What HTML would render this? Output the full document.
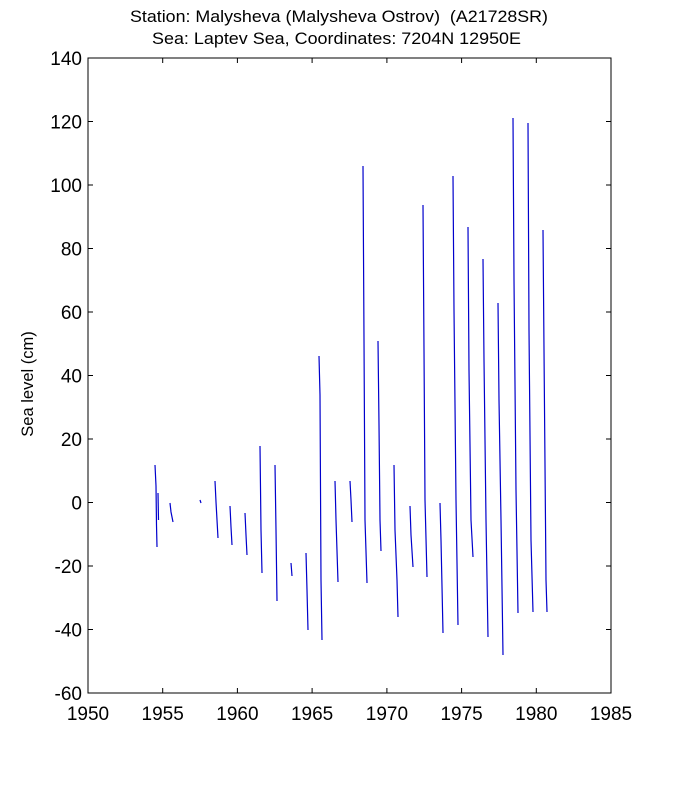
<!DOCTYPE html>
<html><head><meta charset="utf-8"><style>
body{margin:0;background:#fff}
svg text{font-family:"Liberation Sans",Arial,sans-serif;fill:#000}
</style></head><body>
<svg width="675" height="780" viewBox="0 0 675 780" xmlns="http://www.w3.org/2000/svg">
<rect width="675" height="780" fill="#fff"/>
<text x="130" y="22" font-size="17" textLength="418" lengthAdjust="spacingAndGlyphs" xml:space="preserve">Station: Malysheva (Malysheva Ostrov)  (A21728SR)</text>
<text x="152" y="44" font-size="17" textLength="369" lengthAdjust="spacingAndGlyphs">Sea: Laptev Sea, Coordinates: 7204N 12950E</text>
<rect x="88" y="58" width="523" height="635" fill="none" stroke="#000" stroke-width="1"/>
<g stroke="#000" stroke-width="1">
<line x1="162.7" y1="693" x2="162.7" y2="688"/><line x1="237.4" y1="693" x2="237.4" y2="688"/><line x1="312.1" y1="693" x2="312.1" y2="688"/><line x1="386.9" y1="693" x2="386.9" y2="688"/><line x1="461.6" y1="693" x2="461.6" y2="688"/><line x1="536.3" y1="693" x2="536.3" y2="688"/>
<line x1="162.7" y1="58" x2="162.7" y2="63"/><line x1="237.4" y1="58" x2="237.4" y2="63"/><line x1="312.1" y1="58" x2="312.1" y2="63"/><line x1="386.9" y1="58" x2="386.9" y2="63"/><line x1="461.6" y1="58" x2="461.6" y2="63"/><line x1="536.3" y1="58" x2="536.3" y2="63"/>
<line x1="88" y1="629.5" x2="93" y2="629.5"/><line x1="88" y1="566" x2="93" y2="566"/><line x1="88" y1="502.5" x2="93" y2="502.5"/><line x1="88" y1="439" x2="93" y2="439"/><line x1="88" y1="375.5" x2="93" y2="375.5"/><line x1="88" y1="312" x2="93" y2="312"/><line x1="88" y1="248.5" x2="93" y2="248.5"/><line x1="88" y1="185" x2="93" y2="185"/><line x1="88" y1="121.5" x2="93" y2="121.5"/>
<line x1="611" y1="629.5" x2="606" y2="629.5"/><line x1="611" y1="566" x2="606" y2="566"/><line x1="611" y1="502.5" x2="606" y2="502.5"/><line x1="611" y1="439" x2="606" y2="439"/><line x1="611" y1="375.5" x2="606" y2="375.5"/><line x1="611" y1="312" x2="606" y2="312"/><line x1="611" y1="248.5" x2="606" y2="248.5"/><line x1="611" y1="185" x2="606" y2="185"/><line x1="611" y1="121.5" x2="606" y2="121.5"/>
</g>
<g font-size="19" text-anchor="end">
<text x="82" y="700">-60</text><text x="82" y="636.5">-40</text><text x="82" y="573">-20</text><text x="82" y="509.5">0</text><text x="82" y="446">20</text><text x="82" y="382.5">40</text><text x="82" y="319">60</text><text x="82" y="255.5">80</text><text x="82" y="192">100</text><text x="82" y="128.5">120</text><text x="82" y="65">140</text>
</g>
<g font-size="19" text-anchor="middle">
<text x="88" y="720">1950</text><text x="162.7" y="720">1955</text><text x="237.4" y="720">1960</text><text x="312.1" y="720">1965</text><text x="386.9" y="720">1970</text><text x="461.6" y="720">1975</text><text x="536.3" y="720">1980</text><text x="611" y="720">1985</text>
</g>
<text transform="translate(33,384) rotate(-90)" font-size="16.5" text-anchor="middle">Sea level (cm)</text>
<g stroke="#0000cc" stroke-width="1.2" fill="none">
<polyline points="155,465 156,486 156.5,525 157,547"/>
<polyline points="158,493 158.5,520"/>
<polyline points="170,503 171,512 173,522"/>
<polyline points="200,500 201,503"/>
<polyline points="215,481 216,502 218,538"/>
<polyline points="230,506 231,527 232,545"/>
<polyline points="245,513 246,535 247,555"/>
<polyline points="260,446 261,530 262,573"/>
<polyline points="275,465 276,530 277,601"/>
<polyline points="291,563 292,576"/>
<polyline points="306,553 307,590 308,630"/>
<polyline points="319,356 320,395 321,580 322,640"/>
<polyline points="335,481 336,520 338,582"/>
<polyline points="350,481 351,500 352,522"/>
<polyline points="363,166 364,340 365,520 367,583"/>
<polyline points="378,341 379,425 380,520 381,551"/>
<polyline points="394,465 395,530 397,580 398,617"/>
<polyline points="410,506 411,535 413,567"/>
<polyline points="423,205 424,350 425,500 427,577"/>
<polyline points="440,503 441,540 443,633"/>
<polyline points="453,176 454,310 456,500 458,625"/>
<polyline points="468,227 469,370 471,520 473,557"/>
<polyline points="483,259 484,360 486,520 488,637"/>
<polyline points="498,303 499,400 501,520 503,655"/>
<polyline points="513,118 514,280 516,490 518,613"/>
<polyline points="528,123 529,330 531,540 533,612"/>
<polyline points="543,230 544,350 546,580 547,612"/>
</g>
</svg>
</body></html>
